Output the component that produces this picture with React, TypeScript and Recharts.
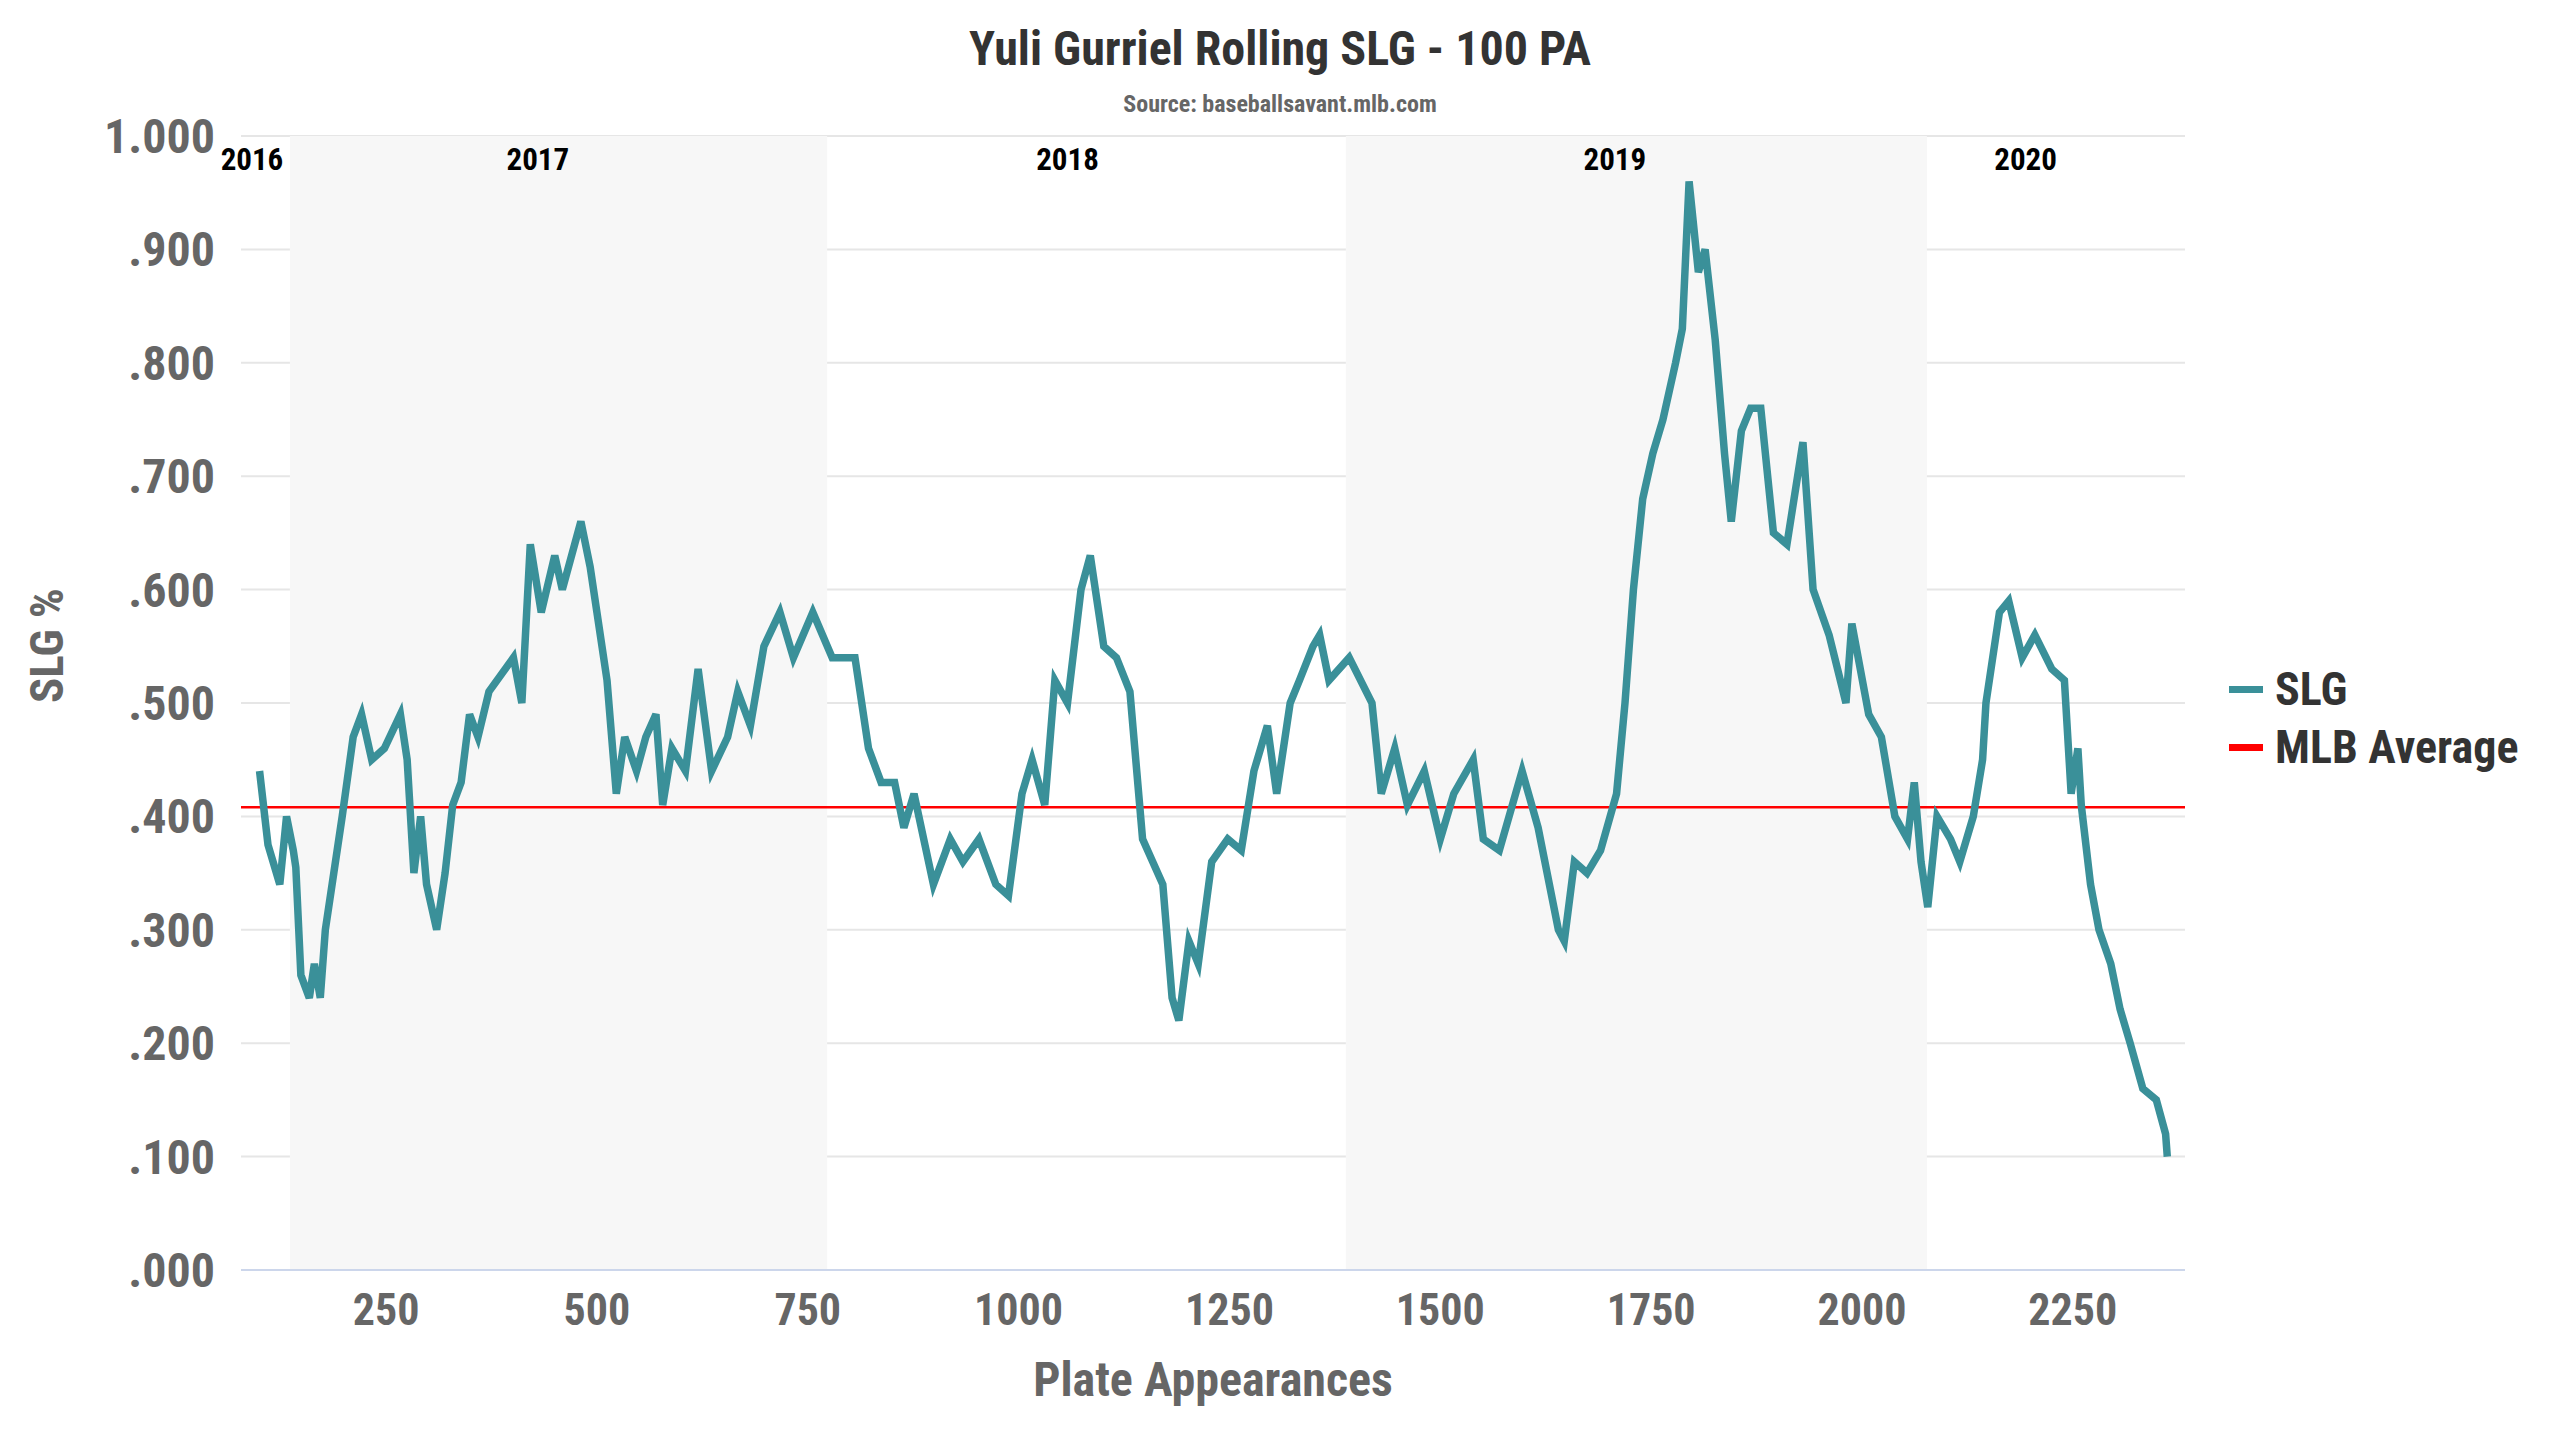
import React from "react";
import {
  LineChart,
  Line,
  XAxis,
  YAxis,
  CartesianGrid,
  ReferenceArea,
  ReferenceLine,
  ReferenceDot,
  Label,
} from "recharts";

// Plate appearance positions and rolling SLG values
const plateAppearances = [
  100, 110, 124, 132, 140, 143, 149, 159, 165, 172, 178, 188, 198, 211, 221, 233, 248, 267, 275, 283,
  291, 298, 310, 320, 329, 339, 349, 359, 372, 401, 411, 421, 434, 450, 459, 481, 492, 500, 512, 523,
  533, 547, 558, 570, 578, 589, 605, 620, 636, 655, 667, 682, 698, 717, 733, 756, 779, 806, 822, 837,
  853, 864, 876, 899, 919, 934, 953, 973, 988, 1004, 1016, 1031, 1043, 1058, 1074, 1085, 1101, 1116, 1132, 1147,
  1159, 1171, 1182, 1190, 1202, 1213, 1229, 1248, 1264, 1279, 1295, 1306, 1322, 1333, 1349, 1357, 1368, 1392, 1419, 1430,
  1446, 1461, 1481, 1500, 1516, 1539, 1551, 1570, 1597, 1616, 1640, 1647, 1659, 1674, 1690, 1709, 1719, 1729, 1740, 1752,
  1764, 1779, 1787, 1795, 1806, 1814, 1826, 1837, 1845, 1857, 1868, 1880, 1895, 1911, 1930, 1942, 1961, 1981, 1988, 2008,
  2023, 2039, 2054, 2062, 2070, 2078, 2089, 2105, 2116, 2132, 2143, 2147, 2163, 2174, 2190, 2205, 2225, 2240, 2248, 2256,
  2260, 2271, 2281, 2295, 2306, 2318, 2333, 2349, 2360, 2362,
];
const slgValues = [
  0.44, 0.375, 0.34, 0.4, 0.37, 0.355, 0.26, 0.24, 0.27, 0.24, 0.3, 0.35, 0.4, 0.47, 0.49, 0.45, 0.46, 0.49, 0.45,
  0.35, 0.4, 0.34, 0.3, 0.35, 0.41, 0.43, 0.49, 0.47, 0.51, 0.54, 0.5, 0.64, 0.58, 0.63, 0.6, 0.66, 0.62, 0.58, 0.52,
  0.42, 0.47, 0.44, 0.47, 0.49, 0.41, 0.46, 0.44, 0.53, 0.44, 0.47, 0.51, 0.48, 0.55, 0.58, 0.54, 0.58, 0.54, 0.54, 0.46,
  0.43, 0.43, 0.39, 0.42, 0.34, 0.38, 0.36, 0.38, 0.34, 0.33, 0.42, 0.45, 0.41, 0.52, 0.5, 0.6, 0.63, 0.55, 0.54, 0.51,
  0.38, 0.36, 0.34, 0.24, 0.22, 0.29, 0.27, 0.36, 0.38, 0.37, 0.44, 0.48, 0.42, 0.5, 0.52, 0.55, 0.56, 0.52, 0.54, 0.5,
  0.42, 0.46, 0.41, 0.44, 0.38, 0.42, 0.45, 0.38, 0.37, 0.44, 0.39, 0.3, 0.29, 0.36, 0.35, 0.37, 0.42, 0.5, 0.6, 0.68,
  0.72, 0.75, 0.8, 0.83, 0.96, 0.88, 0.9, 0.82, 0.72, 0.66, 0.74, 0.76, 0.76, 0.65, 0.64, 0.73, 0.6, 0.56, 0.5, 0.57,
  0.49, 0.47, 0.4, 0.38, 0.43, 0.36, 0.32, 0.4, 0.38, 0.36, 0.4, 0.45, 0.5, 0.58, 0.59, 0.54, 0.56, 0.53, 0.52, 0.42,
  0.46, 0.41, 0.34, 0.3, 0.27, 0.23, 0.2, 0.16, 0.15, 0.12, 0.1,
];

const xTicks = [250, 500, 750, 1000, 1250, 1500, 1750, 2000, 2250];
const yTicks = [0, 0.1, 0.2, 0.3, 0.4, 0.5, 0.6, 0.7, 0.8, 0.9, 1.0];
const mlbAverage = 0.408;

// shaded season bands (odd seasons)
const seasonBands = [
  { from: 136, to: 773 },
  { from: 1388, to: 2077 },
];
const yearLabels = [
  { year: "2016", pa: 91 },
  { year: "2017", pa: 430 },
  { year: "2018", pa: 1058 },
  { year: "2019", pa: 1707 },
  { year: "2020", pa: 2194 },
];

const data = plateAppearances.map((pa, i) => ({ pa, slg: slgValues[i] }));

const FONT = "'Roboto Condensed', Roboto, sans-serif";
const fmtY = (v: number) => (v >= 1 ? "1.000" : v.toFixed(3).replace(/^0/, ""));

export default function App() {
  return (
    <div style={{ position: "relative", width: 2544, height: 1420, fontFamily: FONT }}>
      <div
        style={{
          position: "absolute",
          top: 12,
          width: "100%",
          textAlign: "center",
          fontSize: 48,
          fontWeight: 700,
          color: "#333",
        }}
      >
        Yuli Gurriel Rolling SLG - 100 PA
      </div>
      <div
        style={{
          position: "absolute",
          top: 82,
          width: "100%",
          textAlign: "center",
          fontSize: 24,
          fontWeight: 700,
          color: "#666",
        }}
      >
        Source: baseballsavant.mlb.com
      </div>
      <LineChart
        width={2544}
        height={1420}
        data={data}
        margin={{ top: 128, right: 367, bottom: 5, left: 8 }}
      >
        <CartesianGrid horizontal vertical={false} stroke="#e6e6e6" strokeWidth={2} />
        {seasonBands.map((b, i) => (
          <ReferenceArea key={i} x1={b.from} x2={b.to} y1={0} y2={1} fill="#f7f7f7" fillOpacity={1} stroke="none" />
        ))}
        <XAxis
          dataKey="pa"
          type="number"
          domain={[78, 2383]}
          ticks={xTicks}
          tick={{ fill: "#666", fontSize: 44, fontWeight: 700, fontFamily: FONT }}
          tickLine={false}
          axisLine={{ stroke: "#ccd6eb", strokeWidth: 2 }}
          tickMargin={18}
          height={153}
        >
          <Label value="Plate Appearances" position="insideBottom" offset={27} fill="#666" fontSize={48} fontWeight={700} />
        </XAxis>
        <YAxis
          type="number"
          domain={[0, 1]}
          ticks={yTicks}
          tickFormatter={fmtY}
          tick={{ fill: "#666", fontSize: 48, fontWeight: 700, fontFamily: FONT }}
          tickLine={false}
          axisLine={false}
          width={225}
          tickMargin={20}
        >
          <Label value="SLG %" angle={-90} position="insideLeft" offset={30} fill="#666" fontSize={47} fontWeight={700} />
        </YAxis>
        <ReferenceLine y={mlbAverage} stroke="#ff0000" strokeWidth={2.5} />
        {yearLabels.map((y) => (
          <ReferenceDot
            key={y.year}
            x={y.pa}
            y={0.98}
            r={0}
            fill="none"
            stroke="none"
            label={{ value: y.year, position: "center", fill: "#000", fontSize: 31, fontWeight: 700 }}
          />
        ))}
        <Line
          type="linear"
          dataKey="slg"
          stroke="#3a9099"
          strokeWidth={7.5}
          dot={false}
          isAnimationActive={false}
        />
      </LineChart>
      {[
        { name: "SLG", color: "#3a9099", top: 654 },
        { name: "MLB Average", color: "#ff0000", top: 712 },
      ].map((l) => (
        <div
          key={l.name}
          style={{ position: "absolute", left: 2221, top: l.top, display: "flex", alignItems: "center", gap: 12 }}
        >
          <div style={{ width: 34, height: 7, background: l.color }} />
          <span style={{ fontSize: 46, fontWeight: 700, color: "#333" }}>{l.name}</span>
        </div>
      ))}
    </div>
  );
}
